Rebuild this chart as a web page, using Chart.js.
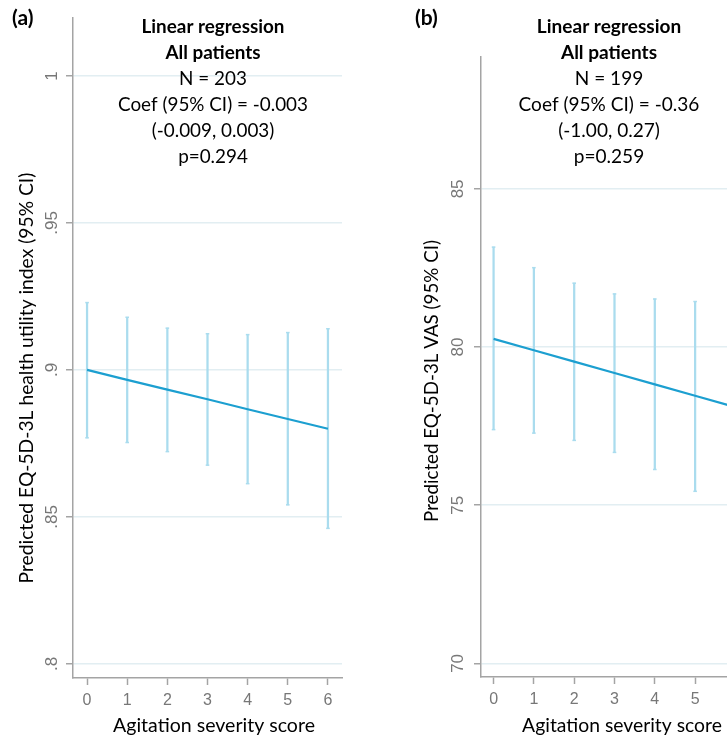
<!DOCTYPE html>
<html><head><meta charset="utf-8">
<script src="https://cdn.jsdelivr.net/npm/chart.js@4.4.1/dist/chart.umd.min.js"></script>
<style>
html,body{margin:0;padding:0;background:#fff;overflow:hidden;width:727px;height:740px;position:relative}
#pa{position:absolute;left:0;top:0;width:360px;height:740px}
#pb{position:absolute;left:360px;top:0;width:400px;height:740px}
canvas{display:block}
</style></head><body>
<div id="pa"><canvas id="ca" width="360" height="740"></canvas></div>
<div id="pb"><canvas id="cb" width="400" height="740"></canvas></div>
<script>
// ---- data ----
const scores = [0, 1, 2, 3, 4, 5, 6];
const xTickLabels = ['0', '1', '2', '3', '4', '5', '6'];

const utilityPred = [0.9000, 0.8966, 0.8933, 0.8900, 0.8866, 0.8833, 0.8800];
const utilityLow  = [0.8769, 0.8753, 0.8722, 0.8676, 0.8613, 0.8541, 0.8461];
const utilityHigh = [0.9229, 0.9179, 0.9142, 0.9123, 0.9120, 0.9127, 0.9140];
const utilityTickValues = [0.8, 0.85, 0.9, 0.95, 1];
const utilityTickLabels = ['.8', '.85', '.9', '.95', '1'];

const vasPred = [80.26, 79.90, 79.54, 79.18, 78.82, 78.46, 78.10];
const vasLow  = [77.39, 77.28, 77.05, 76.67, 76.13, 75.44, 74.60];
const vasHigh = [83.16, 82.51, 82.02, 81.68, 81.52, 81.44, 81.50];
const vasTickValues = [70, 75, 80, 85];
const vasTickLabels = ['70', '75', '80', '85'];

const headerBoldA = ['Linear regression', 'All patients'];
const headerLinesA = ['N = 203', 'Coef (95% CI) = -0.003', '(-0.009, 0.003)', 'p=0.294'];
const headerBoldB = ['Linear regression', 'All patients'];
const headerLinesB = ['N = 199', 'Coef (95% CI) = -0.36', '(-1.00, 0.27)', 'p=0.259'];
const yTitleA = 'Predicted EQ-5D-3L health utility index (95% CI)';
const yTitleB = 'Predicted EQ-5D-3L VAS (95% CI)';
const xTitle = 'Agitation severity score';

// ---- style ----
const TEXT_FONT = 'Lato';
const TICK_FONT = '"Liberation Sans", Arial, sans-serif';
const AXIS_COL = '#a4a4a4';
const GRID_COL = '#e2eef2';
const CI_COL = '#aadcee';
const LINE_COL = '#1c9fd0';

function fitSize(ctx, text, weight, targetW) {
  ctx.font = weight + ' 100px ' + TEXT_FONT;
  return 100 * targetW / ctx.measureText(text).width;
}

const textPlugin = {
  id: 'panelText',
  afterDraw(chart, args, o) {
    const ctx = chart.ctx;
    ctx.save();
    ctx.fillStyle = '#000';
    ctx.textBaseline = 'middle';
    // panel letter
    ctx.font = 'bold 21px ' + TEXT_FONT;
    ctx.textAlign = 'left';
    ctx.fillText(o.letter, o.letterX, o.letterY);
    // header
    const hs = fitSize(ctx, o.lines[1], 'normal', o.fitW);
    ctx.textAlign = 'center';
    let y = o.headerY;
    ctx.font = 'bold ' + hs + 'px ' + TEXT_FONT;
    for (const t of o.bold) { ctx.fillText(t, o.headerX, y); y += o.lineGap; }
    ctx.font = 'normal ' + hs + 'px ' + TEXT_FONT;
    for (const t of o.lines) { ctx.fillText(t, o.headerX, y); y += o.lineGap; }
    // y title
    const ys = fitSize(ctx, o.yTitle, 'normal', o.yTitleW);
    ctx.font = 'normal ' + ys + 'px ' + TEXT_FONT;
    ctx.save();
    ctx.translate(o.yTitleX, o.yTitleY);
    ctx.rotate(-Math.PI / 2);
    ctx.fillText(o.yTitle, 0, 0);
    ctx.restore();
    // x title
    const xs = fitSize(ctx, o.xTitle, 'normal', o.xTitleW);
    ctx.font = 'normal ' + xs + 'px ' + TEXT_FONT;
    ctx.fillText(o.xTitle, o.xTitleX, o.xTitleY);
    ctx.restore();
  }
};

function makePanel(canvasId, p) {
  const lineData = scores.map((s, i) => ({ x: s, y: p.pred[i] }));
  const ciData = scores.map((s, i) => ({ x: s, y: [p.low[i], p.high[i]] }));
  const capData = [];
  scores.forEach((s, i) => { capData.push({ x: s, y: p.low[i] }); capData.push({ x: s, y: p.high[i] }); });
  return new Chart(document.getElementById(canvasId), {
    type: 'line',
    data: {
      datasets: [
        { type: 'line', data: lineData, borderColor: LINE_COL, borderWidth: 2.2, pointRadius: 0, tension: 0, order: 0 },
        { type: 'line', data: capData, showLine: false, pointStyle: 'line', pointRadius: 1.8,
          pointBorderWidth: 1.5, pointBorderColor: CI_COL, borderColor: CI_COL, order: 1 },
        { type: 'bar', data: ciData, backgroundColor: CI_COL, borderWidth: 0, barThickness: 1.6, order: 2 }
      ]
    },
    options: {
      responsive: false,
      animation: false,
      devicePixelRatio: 1,
      events: [],
      layout: { padding: { top: p.top, right: p.right, left: 0, bottom: 0 } },
      plugins: {
        legend: { display: false }, tooltip: { enabled: false },
        panelText: p.text
      },
      scales: {
        x: {
          type: 'linear', min: p.xMin, max: p.xMax, offset: false,
          afterBuildTicks: s => { s.ticks = scores.map(v => ({ value: v })); },
          afterFit: s => { s.height = 740 - p.bottom; },
          ticks: { callback: v => xTickLabels[scores.indexOf(v)], font: { family: TICK_FONT, size: 16 },
                   color: '#777', padding: 6, maxRotation: 0 },
          grid: { drawOnChartArea: false, offset: false, tickColor: AXIS_COL, tickLength: 7, tickWidth: 1.5 },
          border: { color: AXIS_COL, width: 1.5 }
        },
        y: {
          type: 'linear', min: p.yMin, max: p.yMax,
          afterBuildTicks: s => { s.ticks = p.tickValues.map(v => ({ value: v })); },
          afterFit: s => { s.width = p.left; },
          ticks: { callback: v => p.tickLabels[p.tickValues.indexOf(v)], font: { family: TICK_FONT, size: 17 },
                   color: '#777', padding: p.yPad, minRotation: 90, maxRotation: 90, crossAlign: 'center' },
          grid: { color: GRID_COL, lineWidth: 1.5, tickColor: AXIS_COL, tickLength: 7, tickWidth: 1.5 },
          border: { color: AXIS_COL, width: 1.5 }
        }
      }
    },
    plugins: [textPlugin]
  });
}

makePanel('ca', {
  pred: utilityPred, low: utilityLow, high: utilityHigh,
  tickValues: utilityTickValues, tickLabels: utilityTickLabels,
  xMin: -0.35, xMax: 6.35, yMin: 0.7952, yMax: 1.0197,
  top: 18, right: 18, bottom: 678, left: 73, yPad: 2,
  text: {
    letter: '(a)', letterX: 12, letterY: 18,
    bold: headerBoldA, lines: headerLinesA, headerX: 213, headerY: 27, lineGap: 26, fitW: 190,
    yTitle: yTitleA, yTitleX: 27, yTitleY: 378, yTitleW: 411,
    xTitle: xTitle, xTitleX: 214, xTitleY: 726, xTitleW: 202
  }
});

makePanel('cb', {
  pred: vasPred, low: vasLow, high: vasHigh,
  tickValues: vasTickValues, tickLabels: vasTickLabels,
  xMin: -0.312, xMax: 6.312, yMin: 69.57, yMax: 89.17,
  top: 57, right: 12, bottom: 677, left: 121, yPad: 6,
  text: {
    letter: '(b)', letterX: 55, letterY: 18,
    bold: headerBoldB, lines: headerLinesB, headerX: 249, headerY: 27, lineGap: 26, fitW: 181,
    yTitle: yTitleB, yTitleX: 72, yTitleY: 381, yTitleW: 282,
    xTitle: xTitle, xTitleX: 262, xTitleY: 726, xTitleW: 200
  }
});
</script>
</body></html>
